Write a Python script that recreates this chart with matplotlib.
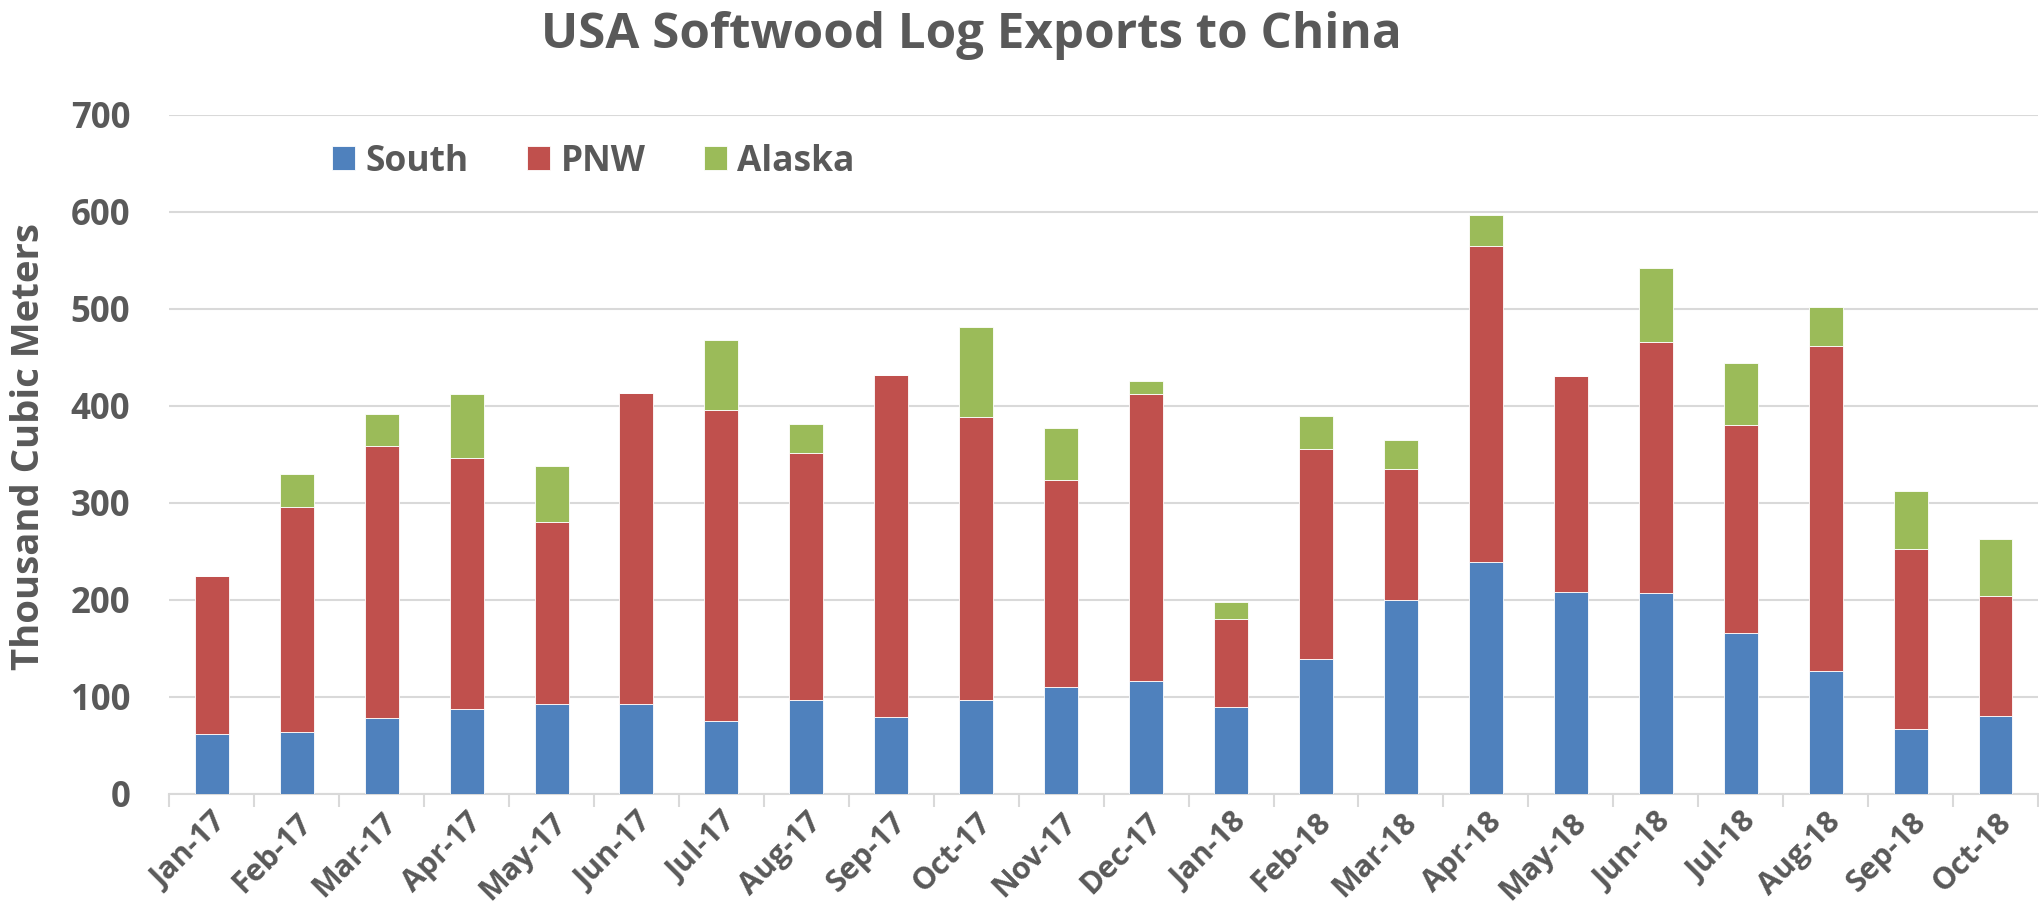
import matplotlib
matplotlib.use("Agg")
import matplotlib.pyplot as plt
import numpy as np

months = ["Jan-17", "Feb-17", "Mar-17", "Apr-17", "May-17", "Jun-17",
          "Jul-17", "Aug-17", "Sep-17", "Oct-17", "Nov-17", "Dec-17",
          "Jan-18", "Feb-18", "Mar-18", "Apr-18", "May-18", "Jun-18",
          "Jul-18", "Aug-18", "Sep-18", "Oct-18"]

# thousand cubic meters
south = [62, 64, 78, 87, 92, 92, 75, 97, 79, 97, 110, 116,
         89, 139, 200, 239, 208, 207, 166, 126, 67, 80]
pnw = [162, 232, 280, 259, 188, 321, 321, 254, 353, 291, 213, 296,
       91, 216, 135, 326, 223, 259, 214, 335, 185, 124]
alaska = [0, 34, 33, 66, 58, 0, 72, 30, 0, 93, 54, 13,
          18, 34, 30, 31, 0, 76, 64, 41, 60, 59]

blue = "#4F81BD"
red = "#C0504D"
green = "#9BBB59"
text_col = "#595959"
grid_col = "#D9D9D9"

plt.rcParams['font.family'] = ['Open Sans', 'DejaVu Sans']
plt.rcParams['font.weight'] = 'bold'

fig = plt.figure(figsize=(20.4, 9.24), dpi=100)
ax = fig.add_axes([0.083, 0.141, 0.916, 0.735])

x = np.arange(len(months))
south = np.array(south)
pnw = np.array(pnw)
alaska = np.array(alaska)

w = 0.4
ax.bar(x, south, w, color=blue, edgecolor="white", linewidth=0.6, label="South", zorder=3)
ax.bar(x, pnw, w, bottom=south, color=red, edgecolor="white", linewidth=0.6, label="PNW", zorder=3)
ax.bar(x, alaska, w, bottom=south + pnw, color=green, edgecolor="white", linewidth=0.6, label="Alaska", zorder=3)

ax.set_xlim(-0.5, len(months) - 0.5)
ax.set_ylim(0, 700)
ax.set_yticks(range(0, 701, 100))
ax.yaxis.grid(True, color=grid_col, linewidth=1.5)
ax.set_axisbelow(True)

for s in ["left", "right", "top"]:
    ax.spines[s].set_visible(False)
ax.spines["bottom"].set_color(grid_col)
ax.spines["bottom"].set_linewidth(1.5)

ax.set_xticks(x)
ax.set_xticklabels(months, rotation=45, ha="right", rotation_mode="anchor",
                   fontsize=22, color=text_col, fontweight="bold")
ax.set_xticks(np.arange(-0.5, len(months)), minor=True)
ax.tick_params(axis="x", which="major", length=0, pad=10)
ax.tick_params(axis="x", which="minor", length=9, width=1.5, color=grid_col)
ax.tick_params(axis="y", length=0, pad=28, labelsize=25, labelcolor=text_col)

ax.set_ylabel("Thousand Cubic Meters", fontsize=27.5, color=text_col, fontweight="bold")
ax.yaxis.set_label_coords(-0.065, 0.511)

fig.text(0.476, 0.962, "USA Softwood Log Exports to China", ha="center", va="center",
         fontsize=35.5, color=text_col, fontweight="bold")

leg = ax.legend(loc="upper left", bbox_to_anchor=(0.070, 1.004), ncol=3, frameon=False,
                fontsize=25.5, handlelength=0.65, handleheight=0.65, handletextpad=0.3,
                columnspacing=1.64)
for t in leg.get_texts():
    t.set_color(text_col)

fig.savefig("out.png", dpi=100)
